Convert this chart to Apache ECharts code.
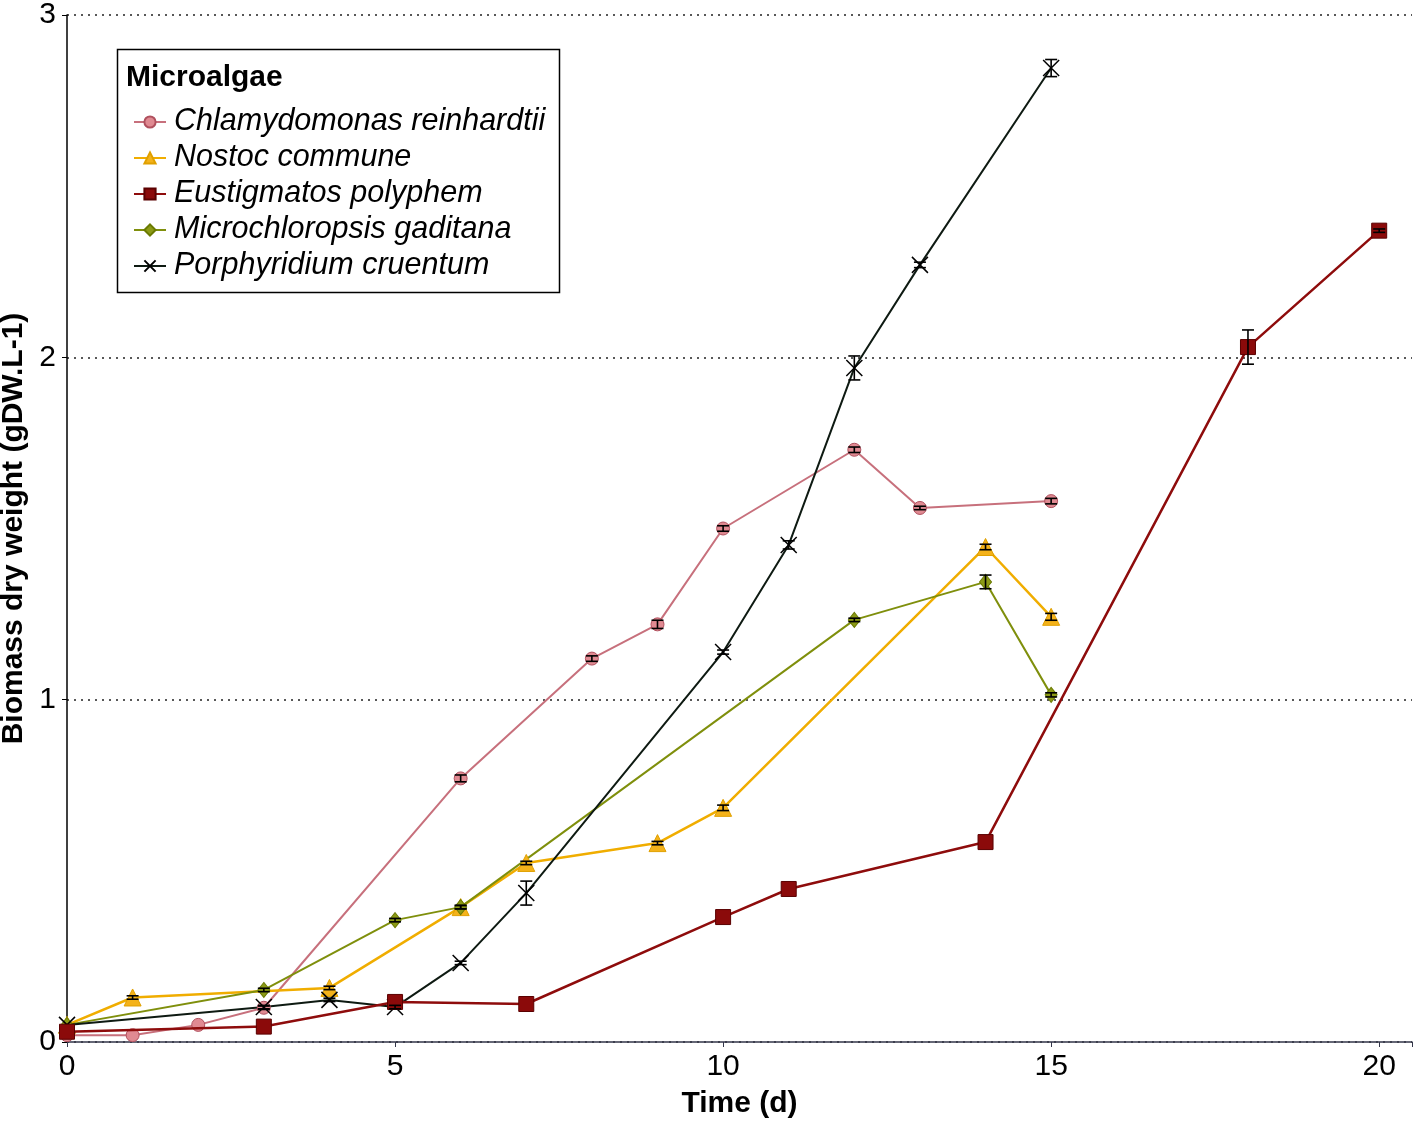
<!DOCTYPE html>
<html>
<head>
<meta charset="utf-8">
<script src="https://cdn.jsdelivr.net/npm/echarts@6/dist/echarts.min.js"></script>
<style>
  html, body { margin: 0; padding: 0; background: #fff; }
  #chart { width: 1417px; height: 1127px; }
</style>
</head>
<body>
<div id="chart"></div>
<script>
// ---- data ----
const names = [
  "Chlamydomonas reinhardtii",
  "Nostoc commune",
  "Eustigmatos polyphem",
  "Microchloropsis gaditana",
  "Porphyridium cruentum"
];

const chlamyX = [0, 1, 2, 3, 6, 8, 9, 10, 12, 13, 15];
const chlamyY = [0.02, 0.02, 0.05, 0.10, 0.77, 1.12, 1.22, 1.50, 1.73, 1.56, 1.58];
const chlamyE = [0, 0, 0, 0.005, 0.01, 0.008, 0.012, 0.008, 0.008, 0.005, 0.008];

const nostocX = [0, 1, 4, 6, 7, 9, 10, 14, 15];
const nostocY = [0.05, 0.13, 0.158, 0.394, 0.523, 0.581, 0.684, 1.446, 1.242];
const nostocE = [0, 0.005, 0.005, 0.005, 0.005, 0.005, 0.008, 0.008, 0.01];

const eustigX = [0, 3, 5, 7, 10, 11, 14, 18, 20];
const eustigY = [0.03, 0.045, 0.117, 0.111, 0.365, 0.447, 0.584, 2.03, 2.37];
const eustigE = [0, 0, 0, 0, 0, 0, 0, 0.05, 0.005];

const microX = [0, 3, 5, 6, 12, 14, 15];
const microY = [0.05, 0.152, 0.356, 0.394, 1.233, 1.344, 1.014];
const microE = [0, 0.005, 0.005, 0.005, 0.005, 0.02, 0.006];

const porphX = [0, 3, 4, 5, 6, 7, 10, 11, 12, 13, 15];
const porphY = [0.05, 0.102, 0.123, 0.102, 0.231, 0.435, 1.139, 1.452, 1.969, 2.27, 2.845];
const porphE = [0, 0.005, 0.005, 0.005, 0.005, 0.035, 0.006, 0.012, 0.035, 0.008, 0.025];

const xTicks = [0, 5, 10, 15, 20];
const yTicks = [0, 1, 2, 3];

// ---- styles ----
const FONT = "Liberation Sans, Arial, sans-serif";
const CROSS = "path://M0,0L10,10M10,0L0,10";

const pts = (xs, ys) => xs.map((x, i) => [x, ys[i]]);

function lineSeries(name, xs, ys, o) {
  return {
    name, type: "line", data: pts(xs, ys),
    symbol: o.symbol, symbolSize: o.size,
    lineStyle: { color: o.line, width: o.width || 2 },
    itemStyle: { color: o.fill, borderColor: o.border, borderWidth: o.bw == null ? 1 : o.bw },
    emphasis: { disabled: true },
    z: o.z || 2
  };
}

function errSeries(name, xs, ys, es) {
  return {
    name: name + " err", type: "custom", z: 5, silent: true,
    data: xs.map((x, i) => [x, ys[i], es[i]]).filter(d => d[2] > 0),
    renderItem: (params, api) => {
      const x = api.value(0), y = api.value(1), e = api.value(2);
      const t = api.coord([x, y + e]);
      const b = api.coord([x, y - e]);
      const w = 6;
      const st = { stroke: "#000", lineWidth: 1.6 };
      return {
        type: "group",
        children: [
          { type: "line", shape: { x1: t[0], y1: t[1], x2: b[0], y2: b[1] }, style: st },
          { type: "line", shape: { x1: t[0] - w, y1: t[1], x2: t[0] + w, y2: t[1] }, style: st },
          { type: "line", shape: { x1: b[0] - w, y1: b[1], x2: b[0] + w, y2: b[1] }, style: st }
        ]
      };
    }
  };
}

const chart = echarts.init(document.getElementById("chart"), null, { renderer: "canvas" });

chart.setOption({
  backgroundColor: "#fff",
  animation: false,
  grid: { left: 67, right: 5, top: 15, bottom: 85, outerBoundsMode: "none", containLabel: false },
  xAxis: {
    type: "value", min: 0, max: 20.5, interval: 5,
    name: "Time (d)", nameLocation: "middle", nameGap: 47,
    nameTextStyle: { color: "#000", fontFamily: FONT, fontSize: 30, fontWeight: "bold" },
    axisLine: { show: true, onZero: false, lineStyle: { color: "#33364a", width: 1.5 } },
    axisTick: { show: true, length: 5, lineStyle: { color: "#33364a" } },
    axisLabel: {
      color: "#000", fontFamily: FONT, fontSize: 30, margin: 10,
      formatter: v => (xTicks.includes(v) ? String(v) : "")
    },
    splitLine: { show: false }
  },
  yAxis: {
    type: "value", min: 0, max: 3, interval: 1,
    name: "Biomass dry weight (gDW.L-1)", nameLocation: "middle", nameGap: 31,
    nameTextStyle: { color: "#000", fontFamily: FONT, fontSize: 30, fontWeight: "bold" },
    axisLine: { show: true, lineStyle: { color: "#000", width: 1.5 } },
    axisTick: { show: true, length: 5, lineStyle: { color: "#000" } },
    axisLabel: {
      color: "#000", fontFamily: FONT, fontSize: 30, margin: 11,
      formatter: v => (yTicks.includes(v) ? String(v) : "")
    },
    splitLine: { show: true, lineStyle: { color: "#222", type: [2, 5], width: 1.5 } }
  },
  legend: {
    data: names, orient: "vertical", left: 128, top: 102,
    itemWidth: 32, itemHeight: 14, itemGap: 6,
    selectedMode: false,
    textStyle: { color: "#000", fontFamily: FONT, fontSize: 30.5, fontStyle: "italic", lineHeight: 30, padding: [0, 0, 0, 3] }
  },
  graphic: [
    { type: "rect", left: 115, top: 47, shape: { width: 442, height: 243 },
      style: { fill: "none", stroke: "#000", lineWidth: 1.5 }, z: 100 },
    { type: "text", left: 126, top: 63,
      style: { text: "Microalgae", fill: "#000", font: "bold 30px " + FONT }, z: 100 }
  ],
  series: [
    lineSeries(names[0], chlamyX, chlamyY, { symbol: "circle", size: 13, line: "#c7707c", fill: "#e08a92", border: "#b0505e", width: 2 }),
    lineSeries(names[1], nostocX, nostocY, { symbol: "triangle", size: 17, line: "#f0ad00", fill: "#f4b21a", border: "#e0a000", width: 2.5 }),
    lineSeries(names[2], eustigX, eustigY, { symbol: "rect", size: 15, line: "#8e0c0c", fill: "#8b0a0a", border: "#5a0000", width: 2.5, z: 3 }),
    lineSeries(names[3], microX, microY, { symbol: "diamond", size: [12, 15], line: "#7f8f0c", fill: "#8c9a16", border: "#6a7a00", width: 2 }),
    lineSeries(names[4], porphX, porphY, { symbol: CROSS, size: 16, line: "#0e1a12", fill: "none", border: "#000", bw: 1.5, width: 2 }),
    errSeries(names[0], chlamyX, chlamyY, chlamyE),
    errSeries(names[1], nostocX, nostocY, nostocE),
    errSeries(names[2], eustigX, eustigY, eustigE),
    errSeries(names[3], microX, microY, microE),
    errSeries(names[4], porphX, porphY, porphE)
  ]
});
</script>
</body>
</html>
